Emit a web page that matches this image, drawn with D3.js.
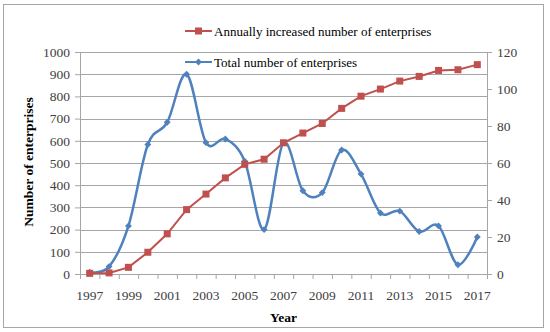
<!DOCTYPE html>
<html>
<head>
<meta charset="utf-8">
<script src="https://cdn.jsdelivr.net/npm/d3@7"></script>
<style>
  body { margin: 0; background: #fff; }
  text { font-family: "Liberation Serif", "Times New Roman", serif; }
</style>
</head>
<body>
<script>
// data
var years = ["1997","1998","1999","2000","2001","2002","2003","2004","2005","2006","2007",
             "2008","2009","2010","2011","2012","2013","2014","2015","2016","2017"];
var yearLabels = ["1997","1999","2001","2003","2005","2007","2009","2011","2013","2015","2017"];

// red series, left axis
var annualValues = [3, 5, 30, 98, 181, 290, 360, 433, 494, 517, 591,
                    635, 678, 746, 801, 833, 869, 890, 917, 920, 943];
// blue series, right axis
var totalValues = [1, 4, 26, 70, 82, 108, 71, 73, 61, 24, 71,
                   45, 44, 67, 54, 33, 34, 23, 26, 5, 20];

var leftTicks = [0, 100, 200, 300, 400, 500, 600, 700, 800, 900, 1000];
var rightTicks = [0, 20, 40, 60, 80, 100, 120];

var seriesNames = ["Annually increased number of enterprises", "Total number of enterprises"];

// set up
var outerWidth = 550,
    outerHeight = 332,
    margin = {top: 52, right: 63, bottom: 58, left: 80},
    width = outerWidth - margin.left - margin.right,
    height = outerHeight - margin.top - margin.bottom;

var red = "#C0504D",
    blue = "#4F81BD",
    grey = "#A6A6A6",
    labelColor = "#404040";

var root = d3.select("body").append("svg")
    .attr("width", outerWidth)
    .attr("height", outerHeight);

// chart frame
root.append("rect")
    .attr("x", 3.5).attr("y", 4.5)
    .attr("width", 540).attr("height", 323)
    .attr("fill", "#fff")
    .attr("stroke", grey)
    .attr("stroke-width", 1);

var svg = root.append("g")
    .attr("transform", "translate(" + margin.left + "," + margin.top + ")");

var x = d3.scaleBand().domain(years).range([0, width]);
var xEdge = d3.scaleLinear().domain([0, years.length]).range([0, width]);
var yLeft = d3.scaleLinear().domain([0, 1000]).range([height, 0]);
var yRight = d3.scaleLinear().domain([0, 120]).range([height, 0]);

// gridlines
svg.selectAll(".grid")
    .data(leftTicks)
    .enter().append("line")
    .attr("class", "grid")
    .attr("x1", 0).attr("x2", width)
    .attr("y1", function(d) { return Math.round(yLeft(d)) + 0.5; })
    .attr("y2", function(d) { return Math.round(yLeft(d)) + 0.5; })
    .attr("stroke", grey);

function styleAxis(g) {
    g.selectAll("path, line").attr("stroke", grey);
    g.selectAll("text")
        .attr("fill", labelColor)
        .style("font-size", "13.5px")
        .style("font-family", "'Liberation Serif', serif");
}

// left axis
svg.append("g")
    .call(d3.axisLeft(yLeft).tickValues(leftTicks).tickFormat(d3.format("d"))
        .tickSize(5).tickPadding(5).tickSizeOuter(0))
    .call(styleAxis);

// right axis
svg.append("g")
    .attr("transform", "translate(" + width + ",0)")
    .call(d3.axisRight(yRight).tickValues(rightTicks).tickFormat(d3.format("d"))
        .tickSize(5).tickPadding(5).tickSizeOuter(0))
    .call(styleAxis);

// x axis: tick marks on category edges
svg.append("g")
    .attr("transform", "translate(0," + height + ")")
    .call(d3.axisBottom(xEdge).tickValues(d3.range(years.length + 1)).tickFormat("").tickSize(5).tickSizeOuter(0))
    .call(styleAxis);

// x axis labels at category centres
var xLab = svg.append("g")
    .attr("transform", "translate(0," + height + ")")
    .call(d3.axisBottom(x).tickValues(yearLabels).tickSize(0).tickPadding(16))
    .call(styleAxis);
xLab.select(".domain").remove();

// lines
var redLine = d3.line()
    .x(function(d, i) { return x(years[i]) + x.bandwidth() / 2; })
    .y(function(d) { return yLeft(d); });

var blueLine = d3.line()
    .x(function(d, i) { return x(years[i]) + x.bandwidth() / 2; })
    .y(function(d) { return yRight(d); })
    .curve(d3.curveCardinal.tension(0));

svg.append("path")
    .datum(totalValues)
    .attr("d", blueLine)
    .attr("fill", "none")
    .attr("stroke", blue)
    .attr("stroke-width", 2.5);

svg.selectAll(".diamond")
    .data(totalValues)
    .enter().append("path")
    .attr("class", "diamond")
    .attr("d", d3.symbol().type(d3.symbolDiamond2).size(30))
    .attr("transform", function(d, i) {
        return "translate(" + (x(years[i]) + x.bandwidth() / 2) + "," + yRight(d) + ")";
    })
    .attr("fill", blue);

svg.append("path")
    .datum(annualValues)
    .attr("d", redLine)
    .attr("fill", "none")
    .attr("stroke", red)
    .attr("stroke-width", 2);

svg.selectAll(".square")
    .data(annualValues)
    .enter().append("rect")
    .attr("class", "square")
    .attr("x", function(d, i) { return x(years[i]) + x.bandwidth() / 2 - 3.5; })
    .attr("y", function(d) { return yLeft(d) - 3.5; })
    .attr("width", 7).attr("height", 7)
    .attr("fill", red);

// legend
var legend = [
    {name: seriesNames[0], color: red, y: 31, marker: "square"},
    {name: seriesNames[1], color: blue, y: 62, marker: "diamond"}
];

legend.forEach(function(l) {
    root.append("line")
        .attr("x1", 185).attr("x2", 212)
        .attr("y1", l.y).attr("y2", l.y)
        .attr("stroke", l.color)
        .attr("stroke-width", 2);
    if (l.marker == "square") {
        root.append("rect")
            .attr("x", 195).attr("y", l.y - 3.5)
            .attr("width", 7).attr("height", 7)
            .attr("fill", l.color);
    } else {
        root.append("path")
            .attr("d", d3.symbol().type(d3.symbolDiamond2).size(30))
            .attr("transform", "translate(198.5," + l.y + ")")
            .attr("fill", l.color);
    }
    root.append("text")
        .attr("x", 214)
        .attr("y", l.y)
        .attr("dy", "0.35em")
        .attr("font-size", "13px")
        .attr("fill", "#000")
        .text(l.name);
});

// axis titles
root.append("text")
    .attr("transform", "translate(33,162) rotate(-90)")
    .attr("text-anchor", "middle")
    .attr("font-size", "13.5px")
    .attr("font-weight", "700")
    .attr("fill", "#000")
    .text("Number of enterprises");

root.append("text")
    .attr("x", 283.5)
    .attr("y", 322)
    .attr("text-anchor", "middle")
    .attr("font-size", "13.5px")
    .attr("font-weight", "700")
    .attr("fill", "#000")
    .text("Year");
</script>
</body>
</html>
